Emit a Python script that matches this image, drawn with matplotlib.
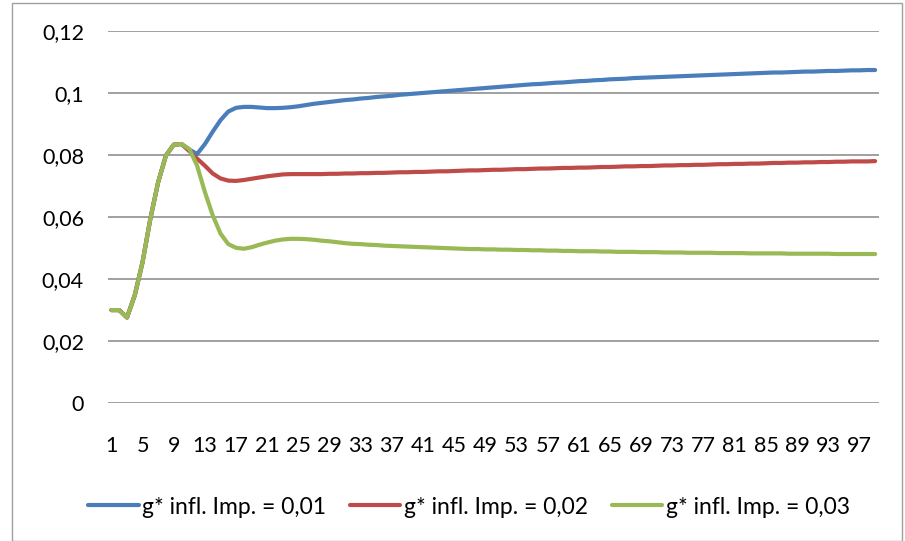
import matplotlib
matplotlib.use("Agg")
import matplotlib.pyplot as plt
from matplotlib.patches import Rectangle

# values, one per period (1..99)
periods = list(range(1, 100))

g_001 = [
    0.0299, 0.0299, 0.0275, 0.0347, 0.0454, 0.0594, 0.0712, 0.0798, 0.0833, 0.0835,
    0.0817, 0.0803, 0.0835, 0.0875, 0.0912, 0.0940, 0.0952, 0.0955, 0.0955, 0.0953,
    0.0951, 0.0951, 0.0952, 0.0954, 0.0957, 0.0961, 0.0965, 0.0968, 0.0971, 0.0974,
    0.0977, 0.0979, 0.0982, 0.0984, 0.0987, 0.0989, 0.0991, 0.0994, 0.0996, 0.0998,
    0.1000, 0.1002, 0.1004, 0.1006, 0.1008, 0.1010, 0.1012, 0.1014, 0.1016, 0.1018,
    0.1020, 0.1022, 0.1024, 0.1026, 0.1028, 0.1029, 0.1031, 0.1033, 0.1034, 0.1036,
    0.1038, 0.1039, 0.1041, 0.1042, 0.1044, 0.1045, 0.1046, 0.1048, 0.1049, 0.1050,
    0.1051, 0.1052, 0.1053, 0.1054, 0.1055, 0.1056, 0.1057, 0.1058, 0.1059, 0.1060,
    0.1061, 0.1062, 0.1063, 0.1064, 0.1065, 0.1066, 0.1066, 0.1067, 0.1068, 0.1069,
    0.1069, 0.1070, 0.1071, 0.1071, 0.1072, 0.1073, 0.1073, 0.1074, 0.1074,
]

g_002 = [
    0.0299, 0.0299, 0.0275, 0.0347, 0.0454, 0.0594, 0.0712, 0.0798, 0.0833, 0.0835,
    0.0812, 0.0788, 0.0765, 0.0740, 0.0724, 0.0717, 0.0716, 0.0719, 0.0723, 0.0727,
    0.0731, 0.0734, 0.0737, 0.0738, 0.0738, 0.0738, 0.0738, 0.0738, 0.0739, 0.0739,
    0.0740, 0.0740, 0.0741, 0.0741, 0.0742, 0.0742, 0.0743, 0.0744, 0.0744, 0.0745,
    0.0745, 0.0746, 0.0747, 0.0747, 0.0748, 0.0749, 0.0750, 0.0750, 0.0751, 0.0752,
    0.0752, 0.0753, 0.0754, 0.0754, 0.0755, 0.0756, 0.0756, 0.0757, 0.0758, 0.0758,
    0.0759, 0.0759, 0.0760, 0.0761, 0.0761, 0.0762, 0.0763, 0.0763, 0.0764, 0.0764,
    0.0765, 0.0766, 0.0766, 0.0767, 0.0767, 0.0768, 0.0768, 0.0769, 0.0770, 0.0770,
    0.0771, 0.0771, 0.0772, 0.0772, 0.0773, 0.0774, 0.0774, 0.0775, 0.0775, 0.0776,
    0.0776, 0.0777, 0.0777, 0.0778, 0.0778, 0.0779, 0.0779, 0.0779, 0.0780,
]

g_003 = [
    0.0299, 0.0299, 0.0275, 0.0347, 0.0454, 0.0594, 0.0712, 0.0798, 0.0833, 0.0835,
    0.0819, 0.0765, 0.0680, 0.0605, 0.0546, 0.0512, 0.0500, 0.0497, 0.0502, 0.0510,
    0.0517, 0.0523, 0.0527, 0.0529, 0.0529, 0.0528, 0.0526, 0.0523, 0.0521, 0.0518,
    0.0515, 0.0513, 0.0512, 0.0510, 0.0509, 0.0507, 0.0506, 0.0505, 0.0504, 0.0503,
    0.0502, 0.0501, 0.0500, 0.0499, 0.0498, 0.0497, 0.0496, 0.0496, 0.0495, 0.0495,
    0.0494, 0.0494, 0.0493, 0.0493, 0.0492, 0.0492, 0.0491, 0.0491, 0.0490, 0.0490,
    0.0489, 0.0489, 0.0489, 0.0488, 0.0488, 0.0487, 0.0487, 0.0487, 0.0486, 0.0486,
    0.0486, 0.0485, 0.0485, 0.0485, 0.0484, 0.0484, 0.0484, 0.0484, 0.0483, 0.0483,
    0.0483, 0.0483, 0.0482, 0.0482, 0.0482, 0.0482, 0.0482, 0.0481, 0.0481, 0.0481,
    0.0481, 0.0481, 0.0481, 0.0480, 0.0480, 0.0480, 0.0480, 0.0480, 0.0480,
]

labels = ["g* infl. Imp. = 0,01", "g* infl. Imp. = 0,02", "g* infl. Imp. = 0,03"]
colors = ["#4A7EBB", "#BE4B48", "#98B954"]
y_ticks = [0, 0.02, 0.04, 0.06, 0.08, 0.1, 0.12]
y_tick_labels = ["0", "0,02", "0,04", "0,06", "0,08", "0,1", "0,12"]

plt.rcParams["font.family"] = ["Lato", "DejaVu Sans"]

fig = plt.figure(figsize=(9.05, 5.41), dpi=100)
ax = fig.add_axes([107.5 / 905, 1 - 402.7 / 541, (879 - 107.5) / 905, (402.7 - 31) / 541])

for series, lab, col in zip([g_001, g_002, g_003], labels, colors):
    ax.plot(periods, series, color=col, linewidth=3.0, label=lab,
            solid_capstyle="round", solid_joinstyle="round")

ax.set_xlim(0.5, 99.5)
ax.set_ylim(0, 0.12)
ax.set_yticks(y_ticks)
ax.set_yticklabels(y_tick_labels)
ax.set_xticks(periods[::4])
ax.set_xticklabels([str(p) for p in periods[::4]])

ax.grid(axis="y", color="#868686", linewidth=1.1)
ax.set_axisbelow(True)
for side in ["top", "right", "left", "bottom"]:
    ax.spines[side].set_visible(False)
ax.tick_params(axis="both", length=0, labelsize=15.5, colors="black")
ax.tick_params(axis="y", pad=17)
ax.tick_params(axis="x", pad=24)

fig.legend(loc="center", bbox_to_anchor=(469 / 905, 1 - 507 / 541), ncol=3,
           frameon=False, fontsize=16.5, handlelength=2.2, handletextpad=0.15,
           columnspacing=1.05)

# chart area border
fig.patches.append(Rectangle((12 / 905, 0.5 / 541), 890 / 905, 538 / 541,
                             transform=fig.transFigure, fill=False,
                             edgecolor="#A0A0A0", linewidth=1.0))

fig.savefig("out.png", dpi=100)
